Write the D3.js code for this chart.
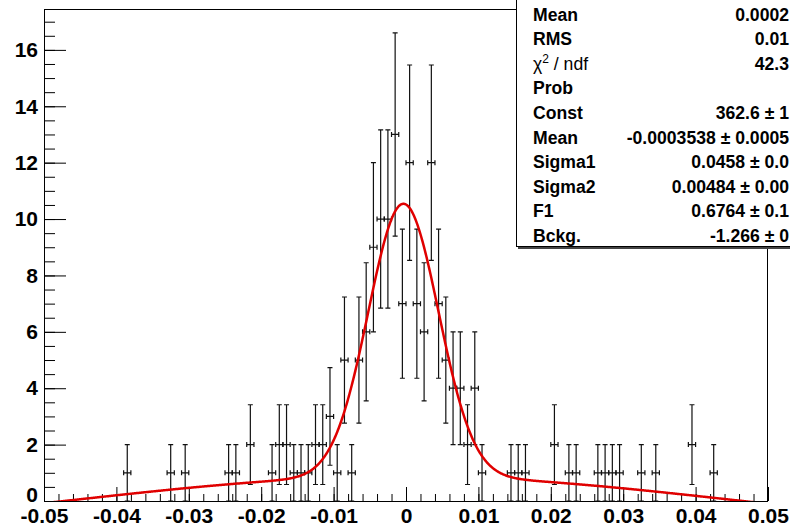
<!DOCTYPE html>
<html><head><meta charset="utf-8">
<script src="https://cdn.jsdelivr.net/npm/d3@7"></script>
<style>html,body{margin:0;padding:0;background:#fff;} svg{display:block;}</style>
</head><body>
<svg id="chart" width="790" height="528"></svg>
<script>
// Histogram: bin centres (bin width 0.001) and entries per bin (empty bins omitted)
const binCenters = [-0.0385, -0.0325, -0.0305, -0.0245, -0.0235, -0.0215, -0.0185, -0.0175, -0.0165, -0.0155,
  -0.0145, -0.0135, -0.0125, -0.0115, -0.0105, -0.0095, -0.0085, -0.0075, -0.0065, -0.0055,
  -0.0045, -0.0035, -0.0025, -0.0015, -0.0005, 0.0005, 0.0015, 0.0025, 0.0035, 0.0045,
  0.0055, 0.0065, 0.0075, 0.0085, 0.0095, 0.0105, 0.0145, 0.0155, 0.0165, 0.0205,
  0.0225, 0.0235, 0.0265, 0.0275, 0.0285, 0.0295, 0.0325, 0.0345, 0.0395, 0.0425];
const binCounts = [1, 1, 1, 1, 1, 2, 1, 2, 2, 1,
  1, 1, 2, 2, 3, 1, 5, 1, 5, 6,
  9, 10, 10, 13, 7, 12, 7, 6, 12, 7,
  5, 4, 4, 2, 4, 1, 1, 1, 1, 2,
  1, 1, 1, 1, 1, 1, 1, 1, 2, 1];
const binWidth = 0.001;

// Fit result: double Gaussian plus constant background
const fitConst = 362.6, fitMean = -0.0003538, fitSigma1 = 0.0458, fitSigma2 = 0.00484,
      fitF1 = 0.6764, fitBckg = -1.266;

// Axis ticks
const xTickValues = [-0.05, -0.04, -0.03, -0.02, -0.01, 0, 0.01, 0.02, 0.03, 0.04, 0.05];
const xTickLabels = ["-0.05", "-0.04", "-0.03", "-0.02", "-0.01", "0", "0.01", "0.02", "0.03", "0.04", "0.05"];
const yTickValues = [0, 2, 4, 6, 8, 10, 12, 14, 16];
const yTickLabels = ["0", "2", "4", "6", "8", "10", "12", "14", "16"];

// Statistics box (values as far as the box shows them)
const statLabels = ["Mean", "RMS", "χ2 / ndf", "Prob", "Const", "Mean", "Sigma1", "Sigma2", "F1", "Bckg."];
const statValues = ["0.0002", "0.01", "42.3", "", "362.6 ± 1", "-0.0003538 ± 0.0005",
  "0.0458 ± 0.0", "0.00484 ± 0.00", "0.6764 ± 0.1", "-1.266 ± 0"];

const svg = d3.select("#chart");
const frame = {left: 44, right: 768, top: 9, bottom: 501};
const x = d3.scaleLinear().domain([-0.05, 0.05]).range([frame.left, frame.right]);
const y = d3.scaleLinear().domain([0, 17.45]).range([frame.bottom, frame.top]);

const FONT = "'Liberation Sans', Arial, Helvetica, sans-serif";

// Axes (ticks pointing into the frame)
function styleAxis(g) {
  g.select(".domain").remove();
  g.selectAll("line").attr("stroke", "#000").attr("stroke-width", 1);
  g.attr("font-family", FONT).attr("font-size", 21).attr("font-weight", "bold");
  g.selectAll("text").attr("fill", "#000");
}
svg.append("g").attr("transform", `translate(0,${frame.bottom})`)
  .call(d3.axisBottom(x).tickValues(d3.range(-50, 51, 2).map(v => v / 1000)).tickSize(-7).tickFormat(""))
  .call(styleAxis);
svg.append("g").attr("transform", `translate(0,${frame.bottom})`)
  .call(d3.axisBottom(x).tickValues(xTickValues).tickSize(-14).tickPadding(7)
    .tickFormat((d, i) => xTickLabels[i]))
  .call(styleAxis);
svg.append("g").attr("transform", `translate(${frame.left},0)`)
  .call(d3.axisLeft(y).tickValues(d3.range(0, 17.45, 0.5)).tickSize(-11).tickFormat(""))
  .call(styleAxis);
const yAx = svg.append("g").attr("transform", `translate(${frame.left},0)`)
  .call(d3.axisLeft(y).tickValues(yTickValues).tickSize(-22).tickPadding(6)
    .tickFormat((d, i) => yTickLabels[i]))
  .call(styleAxis);
// lift the zero label clear of the x-axis labels
yAx.selectAll(".tick").filter(d => d === 0).select("text").attr("dy", "0.0em");

// Frame
svg.append("rect").attr("x", frame.left + 0.5).attr("y", frame.top + 0.5)
  .attr("width", frame.right - frame.left - 1).attr("height", frame.bottom - frame.top)
  .attr("fill", "none").attr("stroke", "#000").attr("stroke-width", 1);

// Error bars
const bins = binCenters.map((c, i) => ({c, n: binCounts[i], e: Math.sqrt(binCounts[i])}));
const eb = svg.append("g").attr("stroke", "#111").attr("stroke-width", 1.2).attr("fill", "none");
const cap = 2.5;
bins.forEach(b => {
  const cx = x(b.c), cy = y(b.n), y1 = y(b.n + b.e), y0 = y(Math.max(0, b.n - b.e));
  const xl = x(b.c - binWidth / 2), xr = x(b.c + binWidth / 2);
  const p = d3.path();
  p.moveTo(cx, y1); p.lineTo(cx, y0);
  p.moveTo(cx - cap, y1); p.lineTo(cx + cap, y1);
  p.moveTo(cx - cap, y0); p.lineTo(cx + cap, y0);
  p.moveTo(xl, cy); p.lineTo(xr, cy);
  p.moveTo(xl, cy - cap); p.lineTo(xl, cy + cap);
  p.moveTo(xr, cy - cap); p.lineTo(xr, cy + cap);
  eb.append("path").attr("d", p.toString());
});

// Fit curve
const gauss = (v, m, s) => Math.exp(-0.5 * ((v - m) / s) ** 2) / (Math.sqrt(2 * Math.PI) * s);
const fitFn = v => fitConst * binWidth * (fitF1 * gauss(v, fitMean, fitSigma1) +
  (1 - fitF1) * gauss(v, fitMean, fitSigma2)) + fitBckg;
svg.append("clipPath").attr("id", "frameClip").append("rect")
  .attr("x", frame.left).attr("y", frame.top)
  .attr("width", frame.right - frame.left).attr("height", frame.bottom - frame.top);
const xs = d3.range(0, 1001).map(i => -0.05 + i * 0.0001);
svg.append("path").attr("clip-path", "url(#frameClip)")
  .attr("d", d3.line().x(v => x(v)).y(v => y(fitFn(v))).curve(d3.curveLinear)(xs))
  .attr("fill", "none").attr("stroke", "#e00000").attr("stroke-width", 2.5)
  .attr("stroke-linejoin", "round");

// Statistics box
const box = svg.append("g");
box.append("rect").attr("x", 518).attr("y", 247).attr("width", 300).attr("height", 2).attr("fill", "#444");
box.append("rect").attr("x", 516.5).attr("y", -5).attr("width", 300).attr("height", 251.5)
  .attr("fill", "#fff").attr("stroke", "#000").attr("stroke-width", 1);
const rowY = i => 20.7 + 24.56 * i;
statLabels.forEach((lab, i) => {
  const t = box.append("text").attr("x", 533).attr("y", rowY(i))
    .attr("font-family", FONT).attr("font-size", 17.6).attr("font-weight", "bold").attr("fill", "#000");
  if (lab.startsWith("χ2")) {
    t.attr("font-weight", "normal");
    t.append("tspan").text("χ");
    t.append("tspan").attr("dy", -7).attr("font-size", 12).text("2");
    t.append("tspan").attr("dy", 7).text(" / ndf");
  } else {
    t.text(lab);
  }
  if (statValues[i]) {
    box.append("text").attr("x", 789).attr("y", rowY(i)).attr("text-anchor", "end")
      .attr("font-family", FONT).attr("font-size", 17.6).attr("font-weight", "bold").attr("fill", "#000")
      .text(statValues[i]);
  }
});
</script>
</body></html>
